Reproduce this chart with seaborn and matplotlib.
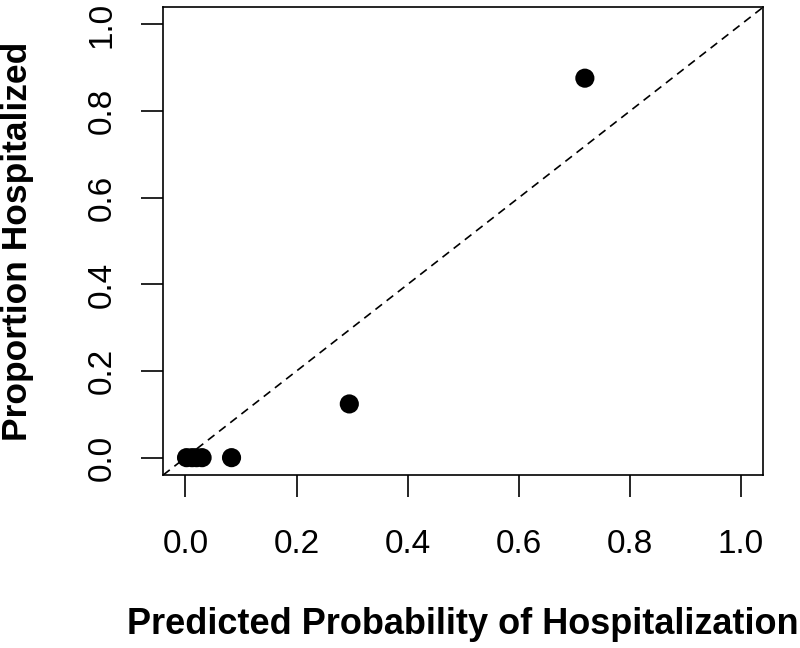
import numpy as np
import pandas as pd
import matplotlib
matplotlib.use("Agg")
import matplotlib.pyplot as plt
import seaborn as sns

# Calibration points
predicted = [0.002, 0.012, 0.02, 0.03, 0.083, 0.295, 0.719]
observed = [0.0, 0.0, 0.0, 0.0, 0.0, 0.124, 0.876]
tick_values = [0.0, 0.2, 0.4, 0.6, 0.8, 1.0]
tick_labels = ["0.0", "0.2", "0.4", "0.6", "0.8", "1.0"]

data = pd.DataFrame({"predicted": predicted, "observed": observed})

sns.set_style("ticks")
plt.rcParams["font.family"] = ["Liberation Sans", "DejaVu Sans"]

fig = plt.figure(figsize=(8, 6.48), dpi=100)
ax = fig.add_axes([0.204, 0.267, 0.75, 0.722])

sns.scatterplot(data=data, x="predicted", y="observed", color="black",
                s=190, edgecolor="none", ax=ax, zorder=3)

# Reference line y = x
ax.axline((0, 0), slope=1, color="black", linestyle=(0, (5, 3.5)), linewidth=1.2)

ax.set_xlim(-0.04, 1.04)
ax.set_ylim(-0.04, 1.04)
ax.set_xticks(tick_values)
ax.set_xticklabels(tick_labels)
ax.set_yticks(tick_values)
ax.set_yticklabels(tick_labels, rotation=90, va="center")
ax.tick_params(axis="both", length=16, width=1.2, labelsize=24, color="black",
               labelcolor="black")
ax.tick_params(axis="x", pad=23)
ax.tick_params(axis="y", pad=17)

for spine in ax.spines.values():
    spine.set_visible(True)
    spine.set_color("black")
    spine.set_linewidth(1.2)

ax.set_xlabel("Predicted Probability of Hospitalization", fontsize=26,
              fontweight="bold", color="black", labelpad=34)
ax.set_ylabel("Proportion Hospitalized", fontsize=25.5, fontweight="bold",
              color="black", labelpad=38)

fig.savefig("out.png", dpi=100)
